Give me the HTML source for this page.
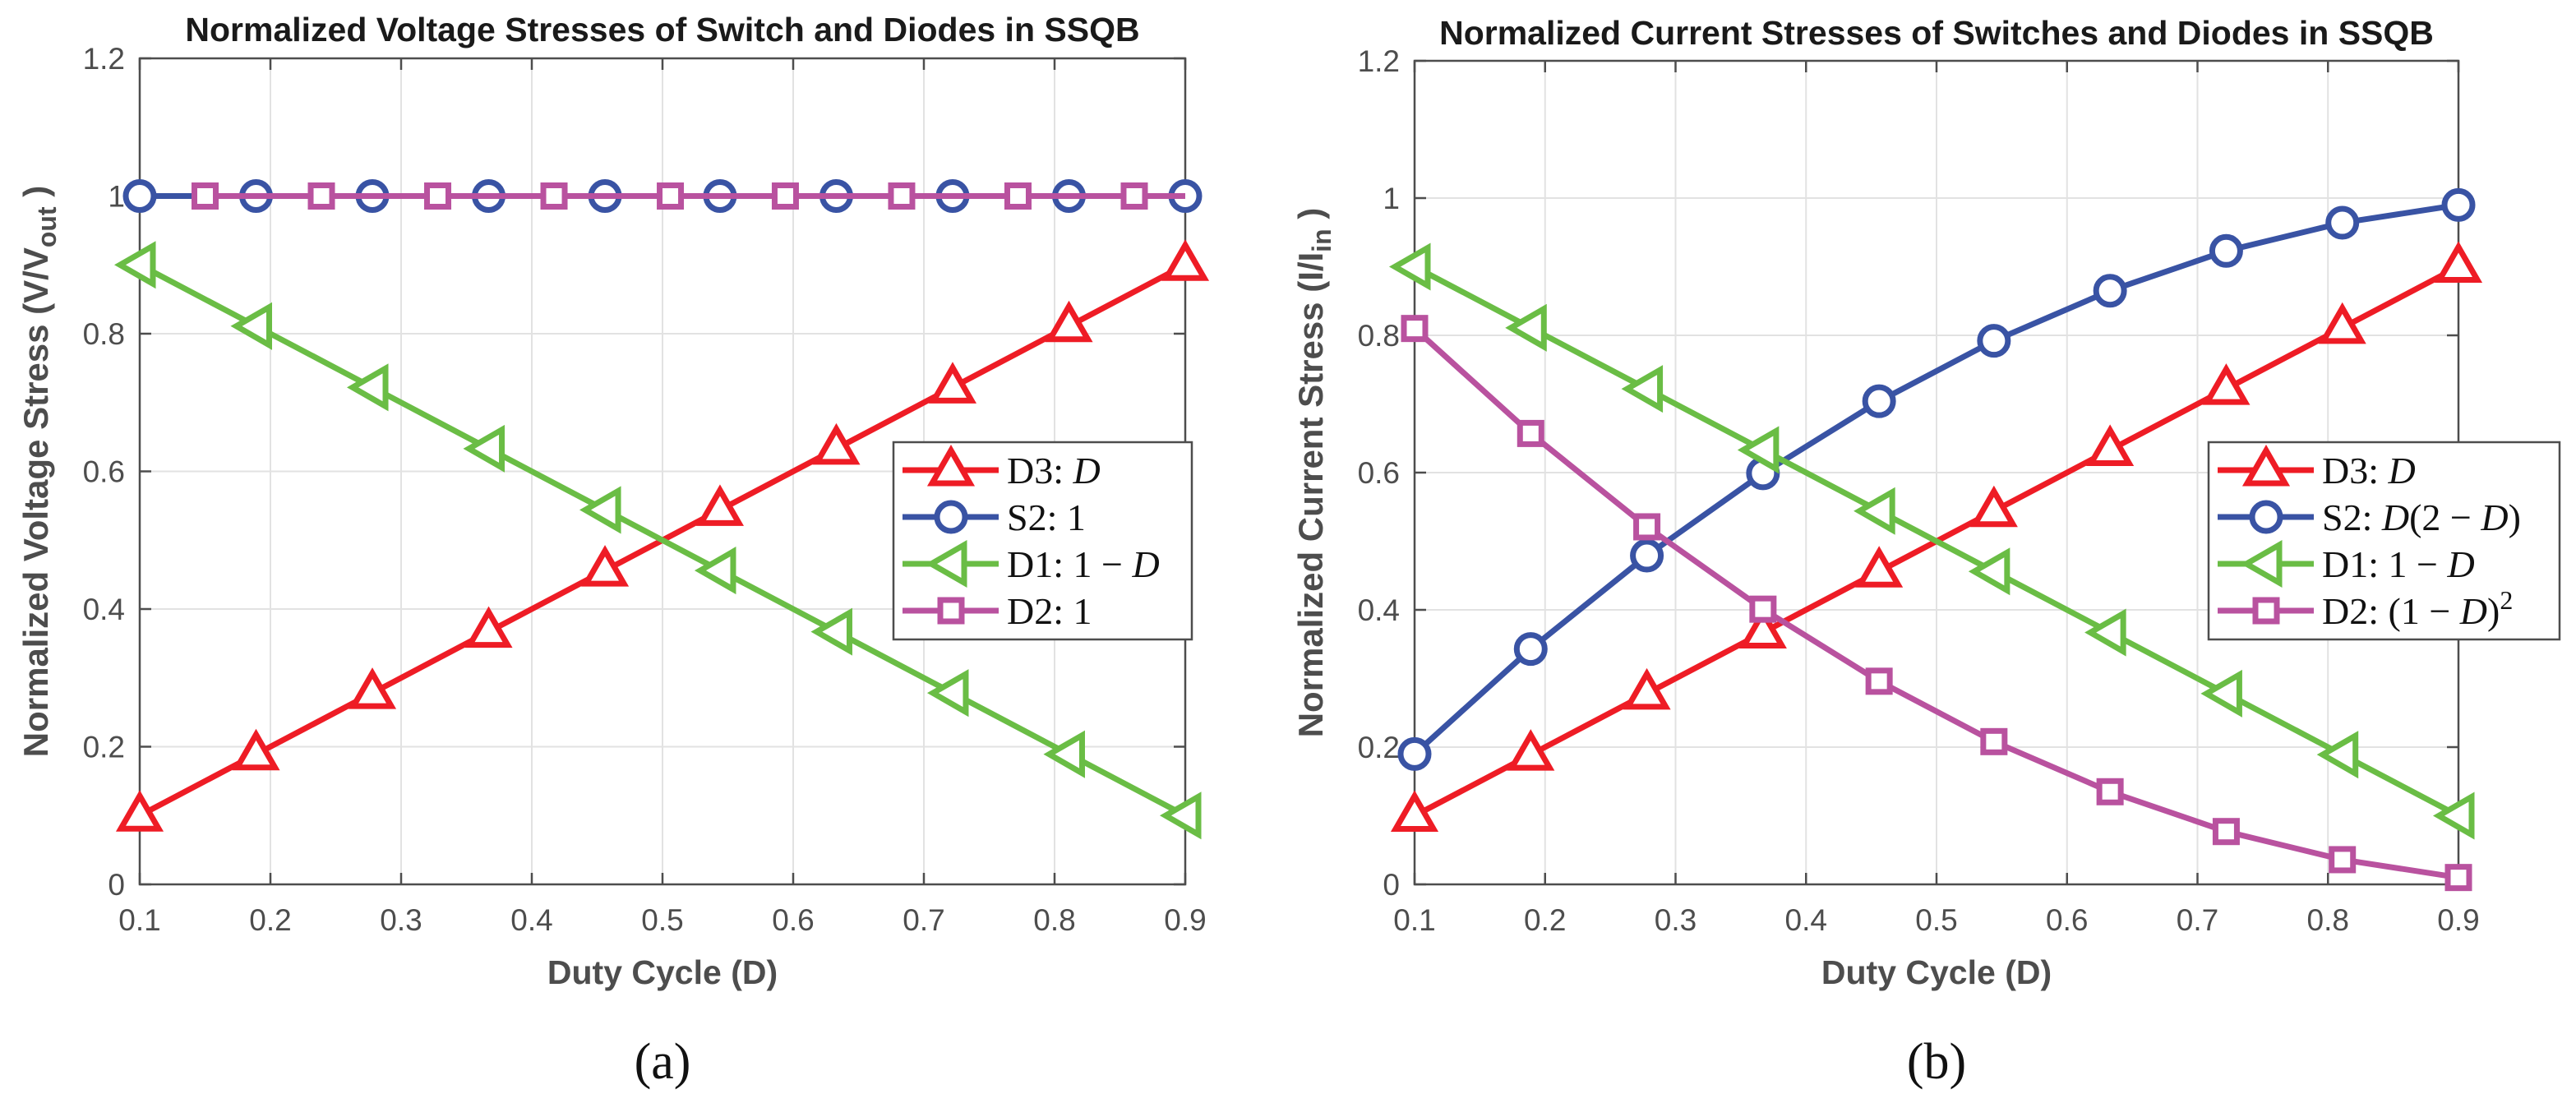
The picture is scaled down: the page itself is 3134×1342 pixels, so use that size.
<!DOCTYPE html>
<html><head><meta charset="utf-8"><style>
html,body{margin:0;padding:0;background:#fff;}
svg{display:block;}
</style></head><body>
<svg id="fig" width="3134" height="1342" viewBox="0 0 3134 1342" xmlns="http://www.w3.org/2000/svg" style="font-family:'Liberation Sans',Arial,sans-serif"></svg>
<script>
// ---------- data ----------
const dutyX = [0.1,0.189,0.278,0.367,0.456,0.544,0.633,0.722,0.811,0.9];
const d2LeftX = [0.15,0.239,0.328,0.417,0.506,0.594,0.683,0.772,0.861];
const xTicks = [0.1,0.2,0.3,0.4,0.5,0.6,0.7,0.8,0.9];
const xTickLabels = ["0.1","0.2","0.3","0.4","0.5","0.6","0.7","0.8","0.9"];
const yTicks = [0,0.2,0.4,0.6,0.8,1,1.2];
const yTickLabels = ["0","0.2","0.4","0.6","0.8","1","1.2"];
// panel (a)
const vD3 = [0.1,0.189,0.278,0.367,0.456,0.544,0.633,0.722,0.811,0.9];
const vS2 = [1,1,1,1,1,1,1,1,1,1];
const vD1 = [0.9,0.811,0.722,0.633,0.544,0.456,0.367,0.278,0.189,0.1];
const vD2 = [1,1,1,1,1,1,1,1,1];
// panel (b)
const iD3 = [0.1,0.189,0.278,0.367,0.456,0.544,0.633,0.722,0.811,0.9];
const iS2 = [0.19,0.343,0.479,0.599,0.704,0.792,0.865,0.923,0.964,0.99];
const iD1 = [0.9,0.811,0.722,0.633,0.544,0.456,0.367,0.278,0.189,0.1];
const iD2 = [0.81,0.657,0.521,0.401,0.296,0.208,0.135,0.077,0.036,0.01];

const NS = "http://www.w3.org/2000/svg";
const svg = document.getElementById('fig');
const COL = {red:"#ee1c25", blue:"#3953a4", green:"#6abd45", mag:"#b9529f"};
const SERIF = "font-family:'Liberation Serif','Times New Roman',serif";
function mk(tag, attrs, parent){
  const e = document.createElementNS(NS, tag);
  for (const k in attrs) e.setAttribute(k, attrs[k]);
  (parent||svg).appendChild(e);
  return e;
}
function marker(g, type, cx, cy, color){
  let m;
  if (type==='tri') m = mk('polygon',{points:`${cx},${cy-24} ${cx-23},${cy+16} ${cx+23},${cy+16}`,fill:'#fff',stroke:color,'stroke-width':7},g);
  else if (type==='circ') m = mk('circle',{cx:cx,cy:cy,r:17,fill:'#fff',stroke:color,'stroke-width':7},g);
  else if (type==='ltri') m = mk('polygon',{points:`${cx-24},${cy} ${cx+16},${cy-23} ${cx+16},${cy+23}`,fill:'#fff',stroke:color,'stroke-width':7},g);
  else m = mk('rect',{x:cx-13,y:cy-13,width:26,height:26,fill:'#fff',stroke:color,'stroke-width':7},g);
  
  
  return m;
}
function panel(cfg){
  const L=cfg.left, R=cfg.right, T=cfg.top, B=cfg.bottom;
  const sx = v => L + (v-0.1)/(0.8)*(R-L);
  const sy = v => B - v/1.2*(B-T);
  const g = mk('g',{});
  
  
  xTicks.forEach((t,i)=>{
    const gl = mk('line',{x1:sx(t),x2:sx(t),y1:T,y2:B,stroke:'#e2e2e2','stroke-width':2},g);
    
    
  });
  yTicks.forEach((t,i)=>{
    const gl = mk('line',{x1:L,x2:R,y1:sy(t),y2:sy(t),stroke:'#e2e2e2','stroke-width':2},g);
    
    
  });
  const box = mk('rect',{x:L,y:T,width:R-L,height:B-T,fill:'none',stroke:'#4d4d4d','stroke-width':2.5},g);
  
  
  xTicks.forEach((t,i)=>{
    mk('line',{x1:sx(t),x2:sx(t),y1:B,y2:B-14,stroke:'#4d4d4d','stroke-width':2.5},g);
    mk('line',{x1:sx(t),x2:sx(t),y1:T,y2:T+14,stroke:'#4d4d4d','stroke-width':2.5},g);
    const tl = mk('text',{x:sx(t),y:1132,'text-anchor':'middle','font-size':37,fill:'#4d4d4d'},g);
    tl.textContent = xTickLabels[i];
    
    
  });
  yTicks.forEach((t,i)=>{
    mk('line',{x1:L,x2:L+14,y1:sy(t),y2:sy(t),stroke:'#4d4d4d','stroke-width':2.5},g);
    mk('line',{x1:R,x2:R-14,y1:sy(t),y2:sy(t),stroke:'#4d4d4d','stroke-width':2.5},g);
    const tl = mk('text',{x:L-18,y:sy(t)+13,'text-anchor':'end','font-size':37,fill:'#4d4d4d'},g);
    tl.textContent = yTickLabels[i];
    
    
  });
  cfg.series.forEach(s=>{
    const sg = mk('g',{},g);
    
    
    const lx = s.lineX || s.x, ly = s.lineY || s.y;
    const pts = lx.map((v,i)=>sx(v)+','+sy(ly[i])).join(' ');
    const pl = mk('polyline',{points:pts,fill:'none',stroke:s.color,'stroke-width':7,'stroke-linejoin':'round'},sg);
    
    
    s.x.forEach((v,i)=>marker(sg,s.marker,sx(v),sy(s.y[i]),s.color));
  });
  const ti = mk('text',{x:(L+R)/2,y:cfg.titleY,'text-anchor':'middle','font-size':41,'font-weight':'bold',fill:'#1a1a1a'},g);
  ti.textContent = cfg.title;
  
  
  const xl = mk('text',{x:(L+R)/2,y:1197,'text-anchor':'middle','font-size':41,'font-weight':'bold',fill:'#4d4d4d'},g);
  xl.textContent = 'Duty Cycle (D)';
  
  
  const yl = mk('text',{x:0,y:0,'text-anchor':'middle','font-size':42,'font-weight':'bold',fill:'#4d4d4d',transform:`translate(${cfg.ylabX},${(T+B)/2}) rotate(-90)`},g);
  
  
  const a = document.createElementNS(NS,'tspan'); a.textContent = cfg.ylab + ' (' + cfg.ylabV + '/' + cfg.ylabU; yl.appendChild(a);
  const sub = document.createElementNS(NS,'tspan'); sub.setAttribute('dy','10'); sub.setAttribute('font-size','32'); sub.textContent = cfg.ylabSub; yl.appendChild(sub);
  const c = document.createElementNS(NS,'tspan'); c.setAttribute('dy','-10'); c.textContent = ' )'; yl.appendChild(c);
  const lg = mk('g',{},g);
  
  
  const lb = mk('rect',{x:cfg.legX,y:538,width:cfg.legW,height:240,fill:'#fff',stroke:'#4d4d4d','stroke-width':2.5},lg);
  
  
  cfg.series.forEach((s,i)=>{
    const yy = 572 + i*57;
    const eg = mk('g',{},lg);
    
    
    mk('line',{x1:cfg.legX+11,x2:cfg.legX+128,y1:yy,y2:yy,stroke:s.color,'stroke-width':7},eg);
    marker(eg,s.marker,cfg.legX+70,yy,s.color);
    const t = mk('text',{x:cfg.legX+138,y:yy+16,'font-size':46,fill:'#111',style:SERIF},eg);
    t.innerHTML = s.label;
  });
  const pl = mk('text',{x:(L+R)/2,y:1312,'text-anchor':'middle','font-size':62,fill:'#111',style:SERIF},g);
  pl.textContent = cfg.letter;
  
  
}
const I = s=>`<tspan font-style="italic">${s}</tspan>`;
panel({name:'voltage-stress-chart',left:170,right:1442,top:71,bottom:1076,titleY:50,ylabX:58,
  title:'Normalized Voltage Stresses of Switch and Diodes in SSQB',
  ylab:'Normalized Voltage Stress',ylabV:'V',ylabU:'V',ylabSub:'out',letter:'(a)',legX:1087,legW:363,
  series:[
    {name:'series-d3',color:COL.red,marker:'tri',x:dutyX,y:vD3,label:'D3:  '+I('D')},
    {name:'series-s2',color:COL.blue,marker:'circ',x:dutyX,y:vS2,label:'S2:  1'},
    {name:'series-d1',color:COL.green,marker:'ltri',x:dutyX,y:vD1,label:'D1:  1 − '+I('D')},
    {name:'series-d2',color:COL.mag,marker:'sq',x:d2LeftX,y:vD2,lineX:d2LeftX.concat([0.9]),lineY:vD2.concat([1]),label:'D2:  1'}
  ]});
panel({name:'current-stress-chart',left:1721,right:2991,top:74,bottom:1076,titleY:54,ylabX:1609,
  title:'Normalized Current Stresses of Switches and Diodes in SSQB',
  ylab:'Normalized Current Stress',ylabV:'I',ylabU:'I',ylabSub:'in',letter:'(b)',legX:2687,legW:427,
  series:[
    {name:'series-d3',color:COL.red,marker:'tri',x:dutyX,y:iD3,label:'D3:  '+I('D')},
    {name:'series-s2',color:COL.blue,marker:'circ',x:dutyX,y:iS2,label:'S2:  '+I('D')+'(2 − '+I('D')+')'},
    {name:'series-d1',color:COL.green,marker:'ltri',x:dutyX,y:iD1,label:'D1:  1 − '+I('D')},
    {name:'series-d2',color:COL.mag,marker:'sq',x:dutyX,y:iD2,label:'D2:  (1 − '+I('D')+')<tspan dy="-18" font-size="32">2</tspan>'}
  ]});
</script>
</body></html>
